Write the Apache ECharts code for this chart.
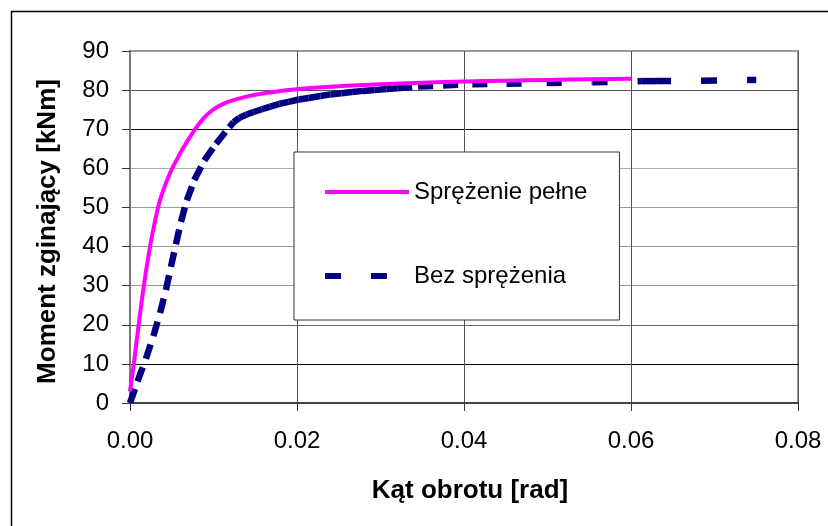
<!DOCTYPE html>
<html>
<head>
<meta charset="utf-8">
<script src="https://cdn.jsdelivr.net/npm/echarts@6.0.0/dist/echarts.min.js"></script>
<style>
  html, body { margin: 0; padding: 0; background: #fff; }
  #chart { width: 828px; height: 526px; }
</style>
</head>
<body>
<div id="chart"></div>
<script>
// ---- Data ----
const seriesNames = ['Sprężenie pełne', 'Bez sprężenia'];
const xAxisName = 'Kąt obrotu [rad]';
const yAxisName = 'Moment zginający [kNm]';
const xTicks = [0, 0.02, 0.04, 0.06, 0.08];
const yTicks = [0, 10, 20, 30, 40, 50, 60, 70, 80, 90];

// Sprężenie pełne
const pelneX = [0, 0.0004, 0.0008, 0.0011, 0.0014, 0.0019, 0.0024, 0.0029, 0.0034, 0.0040,
                0.0046, 0.0052, 0.0058, 0.0064, 0.0070, 0.0076, 0.0082, 0.0088, 0.0096, 0.0104,
                0.0115, 0.0128, 0.0145, 0.0165, 0.0190, 0.0220, 0.0260, 0.0300, 0.0350, 0.0400,
                0.0450, 0.0500, 0.0550, 0.0600];
const pelneY = [3, 9, 16, 21, 26, 33.5, 40, 45.5, 50.4, 54.5,
                57.8, 60.6, 63.0, 65.3, 67.4, 69.4, 71.2, 72.8, 74.4, 75.6,
                76.8, 77.7, 78.6, 79.3, 80.0, 80.6, 81.1, 81.5, 81.9, 82.2,
                82.4, 82.6, 82.8, 82.9];

// Bez sprężenia
const bezX = [0, 0.0009, 0.0019, 0.0028, 0.0036, 0.0043, 0.0049, 0.0055, 0.0061, 0.0068,
              0.0077, 0.0089, 0.0103, 0.0119,
              0.0124, 0.0131, 0.0139, 0.0148, 0.0158, 0.0168, 0.0179, 0.0190, 0.0202, 0.0214,
              0.0228, 0.0240, 0.0253, 0.0266, 0.0279, 0.0293, 0.0307, 0.0320,
              0.0345, 0.0375, 0.0410, 0.0451, 0.0499, 0.0554, 0.0613, 0.0630, 0.0685, 0.0740, 0.0750];
const bezY = [0, 5.5, 11.3, 17.1, 23.0, 28.9, 34.8, 40.6, 46.3, 51.8,
              57.0, 62.0, 66.3, 70.5,
              71.8, 72.9, 73.7, 74.4, 75.1, 75.8, 76.5, 77.0, 77.6, 78.0,
              78.5, 78.9, 79.2, 79.5, 79.8, 80.0, 80.3, 80.5,
              80.9, 81.2, 81.5, 81.6, 81.8, 82.0, 82.3, 82.3, 82.4, 82.6, 82.6];

// ---- Build option ----
const FONT = 'Arial, "Liberation Sans", sans-serif';
const pelneData = pelneX.map((x, i) => [x, pelneY[i]]);
const bezSegments = [];
for (let i = 0; i < bezX.length - 1; i++) {
  bezSegments.push([bezX[i], bezY[i], bezX[i + 1], bezY[i + 1]]);
}

const chart = echarts.init(document.getElementById('chart'), null, { renderer: 'canvas' });

const option = {
  animation: false,
  backgroundColor: '#ffffff',
  textStyle: { fontFamily: FONT },
  graphic: [{
    type: 'rect',
    left: 9, top: 9, z: -10,
    shape: { width: 900, height: 600 },
    style: { fill: null, stroke: '#000', lineWidth: 1.5 }
  }],
  grid: {
    left: 130, right: 30, top: 51, bottom: 123,
    containLabel: false,
    outerBoundsMode: 'none',
    show: true,
    borderColor: '#999',
    borderWidth: 2,
    backgroundColor: 'transparent'
  },
  legend: {
    data: [
      { name: seriesNames[0], icon: 'path://M0,0h0.01v0.01h-0.01z M0,10h84v4h-84z M83.99,23.99h0.01v0.01h-0.01z' },
      { name: seriesNames[1], icon: 'path://M0,0h0.01v0.01h-0.01z M0,9h16v6h-16z M46,9h16v6h-16z M83.99,23.99h0.01v0.01h-0.01z' }
    ],
    orient: 'vertical',
    left: 294, top: 152,
    padding: [28, 32, 32, 31],
    itemWidth: 84, itemHeight: 24, itemGap: 60,
    backgroundColor: '#fff',
    borderColor: '#333', borderWidth: 1,
    selectedMode: false,
    itemStyle: { borderWidth: 0 },
    textStyle: { fontSize: 24, color: '#000', fontFamily: FONT, padding: [4, 0, 0, 0] }
  },
  xAxis: {
    type: 'value',
    min: xTicks[0], max: xTicks[xTicks.length - 1], interval: xTicks[1] - xTicks[0],
    name: xAxisName,
    nameLocation: 'middle',
    nameGap: 75,
    nameTextStyle: { fontSize: 26, fontWeight: 'bold', color: '#000', fontFamily: FONT,
                     padding: [0, 0, 0, 12] },
    axisLine: { show: true, onZero: false, lineStyle: { color: '#444', width: 2 } },
    axisTick: { show: true, inside: false, length: 8, lineStyle: { color: '#333', width: 1 } },
    axisLabel: { fontSize: 24, color: '#000', margin: 26, fontFamily: FONT,
                 formatter: v => v.toFixed(2) },
    splitLine: { show: true, lineStyle: { color: '#555', width: 1 } }
  },
  yAxis: {
    type: 'value',
    min: yTicks[0], max: yTicks[yTicks.length - 1], interval: yTicks[1] - yTicks[0],
    name: yAxisName,
    nameLocation: 'middle',
    nameGap: 69,
    nameRotate: 90,
    nameTextStyle: { fontSize: 26, fontWeight: 'bold', color: '#000', fontFamily: FONT,
                     padding: [0, 9, 0, 0] },
    axisLine: { show: true, onZero: false, lineStyle: { color: '#777', width: 2 } },
    axisTick: { show: true, inside: false, length: 8, lineStyle: { color: '#333', width: 1 } },
    axisLabel: { fontSize: 24, color: '#000', margin: 21, fontFamily: FONT },
    splitLine: { show: true, lineStyle: {
      color: ['#555', '#000', '#666', '#999', '#999', '#999', '#aaa', '#000', '#555', '#999'],
      width: 1 } }
  },
  series: [
    {
      type: 'custom',
      name: seriesNames[1],
      coordinateSystem: 'cartesian2d',
      itemStyle: { color: '#000080' },
      encode: { x: [0, 2], y: [1, 3] },
      data: bezSegments,
      z: 2,
      renderItem: function (params, api) {
        const p1 = api.coord([api.value(0), api.value(1)]);
        const p2 = api.coord([api.value(2), api.value(3)]);
        return {
          type: 'line',
          shape: { x1: p1[0], y1: p1[1], x2: p2[0], y2: p2[1] },
          style: { stroke: '#000080', lineWidth: 6.5, lineDash: [15, 30], lineCap: 'butt', fill: null }
        };
      }
    },
    {
      type: 'line',
      name: seriesNames[0],
      data: pelneData,
      symbol: 'none',
      showSymbol: false,
      smooth: 0.2,
      color: '#FF00FF',
      itemStyle: { color: '#FF00FF' },
      lineStyle: { color: '#FF00FF', width: 4 },
      z: 3
    }
  ]
};

chart.setOption(option);
</script>
</body>
</html>
